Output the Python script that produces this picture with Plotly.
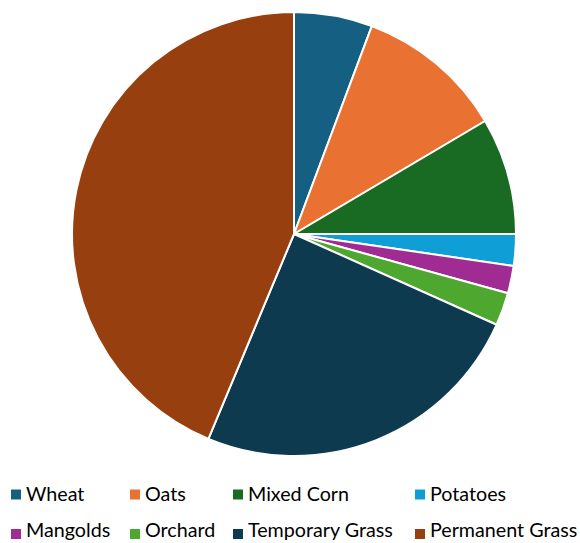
import plotly.graph_objects as go

categories = ["Wheat", "Oats", "Mixed Corn", "Potatoes",
              "Mangolds", "Orchard", "Temporary Grass", "Permanent Grass"]
values = [5.7, 10.8, 8.5, 2.3, 2.0, 2.4, 24.6, 43.7]
colors = ["#156082", "#E97132", "#196B24", "#0F9ED5",
          "#A02B93", "#4EA72E", "#0E3A50", "#973F0E"]

W, H = 580, 543
cx, cy, r = 294, 234, 222

fig = go.Figure()
fig.add_trace(go.Pie(
    labels=categories, values=values, sort=False, direction="clockwise",
    rotation=0, textinfo="none", hoverinfo="label+value",
    marker=dict(colors=colors, line=dict(color="white", width=2)),
    showlegend=False,
    domain=dict(x=[(cx - r) / W, (cx + r) / W], y=[1 - (cy + r) / H, 1 - (cy - r) / H]),
))

# Manual legend: 4 columns x 2 rows
col_x = [11, 130, 233, 415]
row_y = [494.5, 534.0]
sq = 10
fsize = 19.7
shapes, annotations = [], []
for i, (name, col) in enumerate(zip(categories, colors)):
    c, rr = i % 4, i // 4
    x0, yc = col_x[c], row_y[rr]
    shapes.append(dict(type="rect", xref="paper", yref="paper",
                       x0=x0 / W, x1=(x0 + sq) / W,
                       y0=1 - (yc + sq / 2) / H, y1=1 - (yc - sq / 2) / H,
                       fillcolor=col, line=dict(width=0)))
    ty = min(yc - 1, H - 13.5)
    annotations.append(dict(xref="paper", yref="paper", x=(x0 + 14) / W, y=1 - ty / H,
                            text=name, showarrow=False, xanchor="left", yanchor="middle",
                            borderpad=0,
                            font=dict(family="Lato", size=fsize, color="#000000")))

fig.update_layout(
    width=W, height=H, margin=dict(l=0, r=0, t=0, b=0),
    paper_bgcolor="white", plot_bgcolor="white",
    shapes=shapes, annotations=annotations,
)
fig.write_html("out.html")
